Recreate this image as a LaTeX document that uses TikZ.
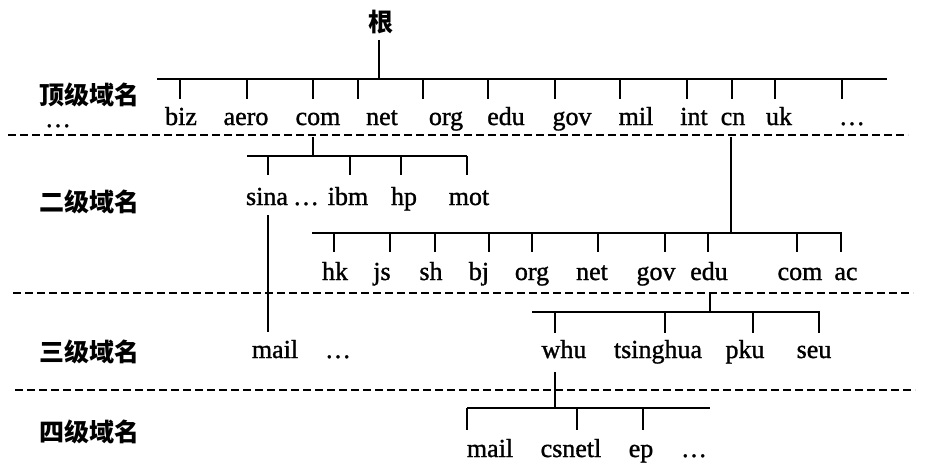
\documentclass[tikz,border=0pt]{standalone}
\usepackage{fontspec}
\setmainfont{Liberation Serif}
\newfontfamily\latn[FakeBold=1.2]{Liberation Serif}
\newfontfamily\cjk{Noto Sans CJK SC}
\begin{document}
\begin{tikzpicture}[x=1pt,y=-1pt,
  lbl/.style={anchor=base,inner sep=0pt,font=\latn\fontsize{26}{28}\selectfont},
  lvl/.style={inner sep=0pt,font=\cjk\bfseries\fontsize{25}{27}\selectfont},
  tree/.style={line width=1.8pt},
  sep/.style={line width=1.4pt,dash pattern=on 8pt off 4pt}]
\useasboundingbox (0,0) rectangle (926,468);
% level labels
\node[lvl] (L1) at (89,95) {顶级域名};
\node[lvl] (L2) at (89,202) {二级域名};
\node[lvl] (L3) at (89,352) {三级域名};
\node[lvl] (L4) at (89,432) {四级域名};
\node[lbl] (ldots) at (58,127) {\dots};
% separators
\coordinate (s1a) at (8,135); \coordinate (s1b) at (908,135);
\coordinate (s2a) at (13,293); \coordinate (s2b) at (913,293);
\coordinate (s3a) at (15,390); \coordinate (s3b) at (915,390);
\draw[sep] (s1a) -- (s1b);
\draw[sep] (s2a) -- (s2b);
\draw[sep] (s3a) -- (s3b);
% root
\node[lvl] (root) at (381,22) {根};
\coordinate (r1) at (379,40); \coordinate (r2) at (379,79);
\draw[tree] (r1) -- (r2);
\coordinate (b1a) at (157,79); \coordinate (b1b) at (887,79);
\draw[tree] (b1a) -- (b1b);
\foreach \x in {180,247,313,358,423,488,555,620,687,732,775,842}
  \draw[tree] (\x,79) -- (\x,99);
% top-level labels
\node[lbl] (biz) at (181,125) {biz};
\node[lbl] (aero) at (246,125) {aero};
\node[lbl] (com) at (318,125) {com};
\node[lbl] (net) at (382,125) {net};
\node[lbl] (org) at (446,125) {org};
\node[lbl] (edu) at (506,125) {edu};
\node[lbl] (gov) at (572,125) {gov};
\node[lbl] (mil) at (636,125) {mil};
\node[lbl] (int) at (694,125) {int};
\node[lbl] (cn) at (733,125) {cn};
\node[lbl] (uk) at (779,125) {uk};
\node[lbl] (tdots) at (852,125) {\dots};
% com subtree
\coordinate (c1) at (313,137); \coordinate (c2) at (313,156);
\draw[tree] (c1) -- (c2);
\coordinate (b2a) at (247,156); \coordinate (b2b) at (467,156);
\draw[tree] (b2a) -- (b2b);
\foreach \x in {268,350,401,467}
  \draw[tree] (\x,156) -- (\x,175);
\node[lbl] (sina) at (267,205) {sina};
\node[lbl] (sdots) at (306,205) {\dots};
\node[lbl] (ibm) at (348,205) {ibm};
\node[lbl] (hp) at (404,205) {hp};
\node[lbl] (mot) at (469,205) {mot};
% sina -> mail
\coordinate (m1) at (268,215); \coordinate (m2) at (268,332);
\draw[tree] (m1) -- (m2);
% cn subtree
\coordinate (n1) at (731,137); \coordinate (n2) at (731,233);
\draw[tree] (n1) -- (n2);
\coordinate (b3a) at (312,233); \coordinate (b3b) at (842,233);
\draw[tree] (b3a) -- (b3b);
\foreach \x in {334,390,435,489,532,598,665,708,797,841}
  \draw[tree] (\x,233) -- (\x,252);
\node[lbl] (hk) at (335,280) {hk};
\node[lbl] (js) at (382,280) {js};
\node[lbl] (sh) at (431,280) {sh};
\node[lbl] (bj) at (479,280) {bj};
\node[lbl] (cnorg) at (532,280) {org};
\node[lbl] (cnnet) at (592,280) {net};
\node[lbl] (cngov) at (656,280) {gov};
\node[lbl] (cnedu) at (709,280) {edu};
\node[lbl] (cncom) at (800,280) {com};
\node[lbl] (ac) at (846,280) {ac};
% edu subtree
\coordinate (e1) at (710,293); \coordinate (e2) at (710,312);
\draw[tree] (e1) -- (e2);
\coordinate (b4a) at (532,312); \coordinate (b4b) at (820,312);
\draw[tree] (b4a) -- (b4b);
\foreach \x in {555,665,753,819}
  \draw[tree] (\x,312) -- (\x,333);
\node[lbl] (whu) at (564,358) {whu};
\node[lbl] (tsinghua) at (658,358) {tsinghua};
\node[lbl] (pku) at (745,358) {pku};
\node[lbl] (seu) at (814,358) {seu};
\node[lbl] (mail3) at (275,358) {mail};
\node[lbl] (mdots) at (338,358) {\dots};
% whu subtree
\coordinate (w1) at (555,372); \coordinate (w2) at (555,408);
\draw[tree] (w1) -- (w2);
\coordinate (b5a) at (467,408); \coordinate (b5b) at (710,408);
\draw[tree] (b5a) -- (b5b);
\foreach \x in {467,577,643}
  \draw[tree] (\x,408) -- (\x,430);
\node[lbl] (mail4) at (490,457) {mail};
\node[lbl] (csnetl) at (571,457) {csnetl};
\node[lbl] (ep) at (641,457) {ep};
\node[lbl] (wdots) at (694,457) {\dots};
\end{tikzpicture}
\end{document}
